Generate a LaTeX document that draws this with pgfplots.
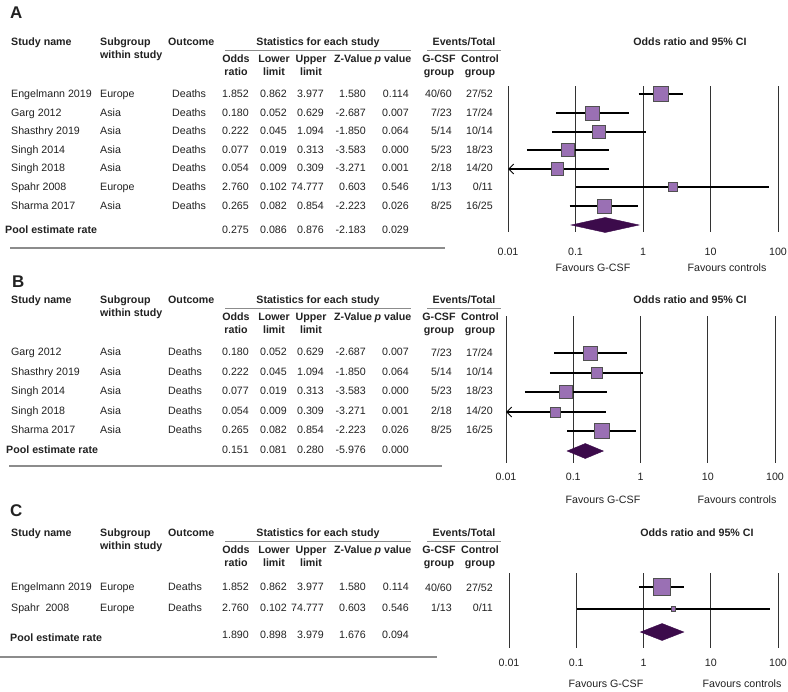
\documentclass[border=0pt]{standalone}
\usepackage{pgfplots}
\pgfplotsset{compat=1.18}
\usetikzlibrary{arrows.meta}
\usepackage{fontspec}
\setmainfont{Liberation Sans}
\definecolor{sqfill}{HTML}{9A70B4}
\definecolor{sqdraw}{HTML}{505050}
\definecolor{diam}{HTML}{3C0B4B}
\definecolor{txt}{HTML}{222222}
\definecolor{sep}{HTML}{8C8C8C}

\newcommand\fs{\fontsize{10.7}{12}\selectfont}
\newcommand\TL[3]{\node[anchor=base west,inner sep=0pt] at (#1,{-(#2)-3.8}) {#3};}
\newcommand\TR[3]{\node[anchor=base east,inner sep=0pt] at (#1,{-(#2)-3.8}) {#3};}
\newcommand\TC[3]{\node[anchor=base,inner sep=0pt] at (#1,{-(#2)-3.8}) {#3};}

\newcommand\Header[2]{%
 \begin{scope}[font=\fs\bfseries]
 \TL{11}{#1}{Study name}
 \TL{100}{#1}{Subgroup}
 \TL{100}{#1+13}{within study}
 \TL{168}{#1}{Outcome}
 \TC{318}{#1}{Statistics for each study}
 \draw[sep, line width=0.9bp] (225,{-(#1)-8.5}) -- (411,{-(#1)-8.5});
 \TC{236}{#1+17}{Odds}\TC{236}{#1+30}{ratio}
 \TC{274}{#1+17}{Lower}\TC{274}{#1+30}{limit}
 \TC{311}{#1+17}{Upper}\TC{311}{#1+30}{limit}
 \TC{353}{#1+17}{Z-Value}
 \TC{393}{#1+17}{\textit{p} value}
 \TC{464}{#1}{Events/Total}
 \draw[sep, line width=0.9bp] (427,{-(#1)-8.5}) -- (501,{-(#1)-8.5});
 \TC{439}{#1+17}{G-CSF}\TC{439}{#1+30}{group}
 \TC{480}{#1+17}{Control}\TC{480}{#1+30}{group}
 \TC{#2}{#1}{Odds ratio and 95\% CI}
 \end{scope}}

\newcommand\RowL[5]{\TL{11}{#1}{#2}\TL{100}{#1}{#3}\TL{#5}{#1}{#4}}
\newcommand\RowN[6]{\TR{249}{#1}{#2}\TR{287}{#1}{#3}\TR{324}{#1}{#4}\TR{366}{#1}{#5}\TR{409}{#1}{#6}}
\newcommand\RowE[3]{\TR{452}{#1}{#2}\TR{493}{#1}{#3}}

\tikzset{
  ci/.style={black, line width=2bp},
  dm/.style={fill=diam, draw=diam}
}
\pgfplotsset{
  sq/.style={only marks, mark=square*, mark options={fill=sqfill, draw=sqdraw, line width=0.8bp}}
}

\begin{document}
\begin{tikzpicture}[x=1bp,y=1bp,text=txt]
\path[use as bounding box, fill=white] (0,0) rectangle (788,-692);

% ================= Panel A =================
\node[anchor=base west,inner sep=0pt,font=\fontsize{17}{18}\selectfont\bfseries] at (10,-18.1) {A};
\Header{42}{690}
\begin{scope}[font=\fs]
\RowL{94}{Engelmann 2019}{Europe}{Deaths}{172}\RowN{94}{1.852}{0.862}{3.977}{1.580}{0.114}\RowE{94}{40/60}{27/52}
\RowL{113}{Garg 2012}{Asia}{Deaths}{172}\RowN{113}{0.180}{0.052}{0.629}{-2.687}{0.007}\RowE{113}{7/23}{17/24}
\RowL{131}{Shasthry 2019}{Asia}{Deaths}{172}\RowN{131}{0.222}{0.045}{1.094}{-1.850}{0.064}\RowE{131}{5/14}{10/14}
\RowL{150}{Singh 2014}{Asia}{Deaths}{172}\RowN{150}{0.077}{0.019}{0.313}{-3.583}{0.000}\RowE{150}{5/23}{18/23}
\RowL{168}{Singh 2018}{Asia}{Deaths}{172}\RowN{168}{0.054}{0.009}{0.309}{-3.271}{0.001}\RowE{168}{2/18}{14/20}
\RowL{187}{Spahr 2008}{Europe}{Deaths}{172}\RowN{187}{2.760}{0.102}{74.777}{0.603}{0.546}\RowE{187}{1/13}{0/11}
\RowL{206}{Sharma 2017}{Asia}{Deaths}{172}\RowN{206}{0.265}{0.082}{0.854}{-2.223}{0.026}\RowE{206}{8/25}{16/25}
\node[anchor=base west,inner sep=0pt,font=\fs\bfseries] at (5,-233.8) {Pool estimate rate};
\RowN{230}{0.275}{0.086}{0.876}{-2.183}{0.029}
\TC{593}{268}{Favours G-CSF}\TC{727}{268}{Favours controls}
\end{scope}
\draw[sep, line width=2bp] (10,-248) -- (445,-248);

\begin{axis}[scale only axis, width=270bp, height=146bp,
  xmode=log, xmin=0.01, xmax=100, ymin=86, ymax=232,
  y dir=reverse, clip=false,
  axis line style={draw=none}, major tick length=0pt, minor tick length=0pt, ytick=\empty,
  xtick={0.01,0.1,1,10,100}, xticklabels={0.01,0.1,1,10,100},
  xmajorgrids, major grid style={black!80, line width=0.9bp},
  xticklabel style={font=\fs, anchor=center, text=txt, yshift=-20bp},
  at={(508bp,-232bp)}, anchor=south west]
\addplot[ci] coordinates {(0.862,94) (3.977,94)};
\addplot[ci] coordinates {(0.052,113) (0.629,113)};
\addplot[ci] coordinates {(0.045,132) (1.094,132)};
\addplot[ci] coordinates {(0.019,150) (0.313,150)};
\addplot[ci, arrows={Straight Barb[length=5bp,width=10bp,line width=1bp]-}] coordinates {(0.01,169) (0.309,169)};
\addplot[ci] coordinates {(0.102,187) (74.777,187)};
\addplot[ci] coordinates {(0.082,206) (0.854,206)};
\addplot[sq, mark size=7.3bp] coordinates {(1.852,94)};
\addplot[sq, mark size=6.9bp] coordinates {(0.180,113)};
\addplot[sq, mark size=6.4bp] coordinates {(0.222,132)};
\addplot[sq, mark size=6.5bp] coordinates {(0.077,150)};
\addplot[sq, mark size=6.2bp] coordinates {(0.054,169)};
\addplot[sq, mark size=4.5bp] coordinates {(2.760,187)};
\addplot[sq, mark size=6.9bp] coordinates {(0.265,206)};
\addplot[dm] coordinates {(0.086,225) (0.275,217.5) (0.876,225) (0.275,232.5)} -- cycle;
\end{axis}

% ================= Panel B =================
\node[anchor=base west,inner sep=0pt,font=\fontsize{17}{18}\selectfont\bfseries] at (12,-287.1) {B};
\Header{300}{690}
\begin{scope}[font=\fs]
\RowL{352}{Garg 2012}{Asia}{Deaths}{168}\RowN{352}{0.180}{0.052}{0.629}{-2.687}{0.007}\RowE{353}{7/23}{17/24}
\RowL{372}{Shasthry 2019}{Asia}{Deaths}{168}\RowN{372}{0.222}{0.045}{1.094}{-1.850}{0.064}\RowE{372}{5/14}{10/14}
\RowL{391}{Singh 2014}{Asia}{Deaths}{168}\RowN{391}{0.077}{0.019}{0.313}{-3.583}{0.000}\RowE{391}{5/23}{18/23}
\RowL{411}{Singh 2018}{Asia}{Deaths}{168}\RowN{411}{0.054}{0.009}{0.309}{-3.271}{0.001}\RowE{411}{2/18}{14/20}
\RowL{430}{Sharma 2017}{Asia}{Deaths}{168}\RowN{430}{0.265}{0.082}{0.854}{-2.223}{0.026}\RowE{430}{8/25}{16/25}
\node[anchor=base west,inner sep=0pt,font=\fs\bfseries] at (6,-453.8) {Pool estimate rate};
\RowN{450}{0.151}{0.081}{0.280}{-5.976}{0.000}
\TC{603}{500}{Favours G-CSF}\TC{737}{500}{Favours controls}
\end{scope}
\draw[sep, line width=2bp] (9,-466) -- (442,-466);

\begin{axis}[scale only axis, width=269bp, height=147bp,
  xmode=log, xmin=0.01, xmax=100, ymin=316, ymax=463,
  y dir=reverse, clip=false,
  axis line style={draw=none}, major tick length=0pt, minor tick length=0pt, ytick=\empty,
  xtick={0.01,0.1,1,10,100}, xticklabels={0.01,0.1,1,10,100},
  xmajorgrids, major grid style={black!80, line width=0.9bp},
  xticklabel style={font=\fs, anchor=center, text=txt, yshift=-14bp},
  at={(506bp,-463bp)}, anchor=south west]
\addplot[ci] coordinates {(0.052,353) (0.629,353)};
\addplot[ci] coordinates {(0.045,373) (1.094,373)};
\addplot[ci] coordinates {(0.019,392) (0.313,392)};
\addplot[ci, arrows={Straight Barb[length=5bp,width=10bp,line width=1bp]-}] coordinates {(0.01,412) (0.309,412)};
\addplot[ci] coordinates {(0.082,431) (0.854,431)};
\addplot[sq, mark size=7.0bp] coordinates {(0.180,353)};
\addplot[sq, mark size=5.4bp] coordinates {(0.222,373)};
\addplot[sq, mark size=6.4bp] coordinates {(0.077,392)};
\addplot[sq, mark size=4.9bp] coordinates {(0.054,412)};
\addplot[sq, mark size=7.4bp] coordinates {(0.265,431)};
\addplot[dm] coordinates {(0.081,451) (0.151,443.5) (0.280,451) (0.151,458.5)} -- cycle;
\end{axis}

% ================= Panel C =================
\node[anchor=base west,inner sep=0pt,font=\fontsize{17}{18}\selectfont\bfseries] at (10,-516.1) {C};
\Header{533}{697}
\begin{scope}[font=\fs]
\RowL{587}{Engelmann 2019}{Europe}{Deaths}{168}\RowN{587}{1.852}{0.862}{3.977}{1.580}{0.114}\RowE{588}{40/60}{27/52}
\RowL{608}{Spahr\ \ 2008}{Europe}{Deaths}{168}\RowN{608}{2.760}{0.102}{74.777}{0.603}{0.546}\RowE{608}{1/13}{0/11}
\node[anchor=base west,inner sep=0pt,font=\fs\bfseries] at (10,-641.8) {Pool estimate rate};
\RowN{635}{1.890}{0.898}{3.979}{1.676}{0.094}
\TC{606}{684}{Favours G-CSF}\TC{742}{684}{Favours controls}
\end{scope}
\draw[sep, line width=2bp] (0,-657) -- (437,-657);

\begin{axis}[scale only axis, width=269bp, height=75bp,
  xmode=log, xmin=0.01, xmax=100, ymin=573, ymax=648,
  y dir=reverse, clip=false,
  axis line style={draw=none}, major tick length=0pt, minor tick length=0pt, ytick=\empty,
  xtick={0.01,0.1,1,10,100}, xticklabels={0.01,0.1,1,10,100},
  xmajorgrids, major grid style={black!80, line width=0.9bp},
  xticklabel style={font=\fs, anchor=center, text=txt, yshift=-15bp},
  at={(509bp,-648bp)}, anchor=south west]
\addplot[ci] coordinates {(0.862,587) (3.977,587)};
\addplot[ci] coordinates {(0.102,609) (74.777,609)};
\addplot[sq, mark size=8.5bp] coordinates {(1.852,587)};
\addplot[sq, mark size=2.2bp] coordinates {(2.760,609)};
\addplot[dm] coordinates {(0.898,632) (1.890,623.5) (3.979,632) (1.890,640.5)} -- cycle;
\end{axis}
\end{tikzpicture}
\end{document}
